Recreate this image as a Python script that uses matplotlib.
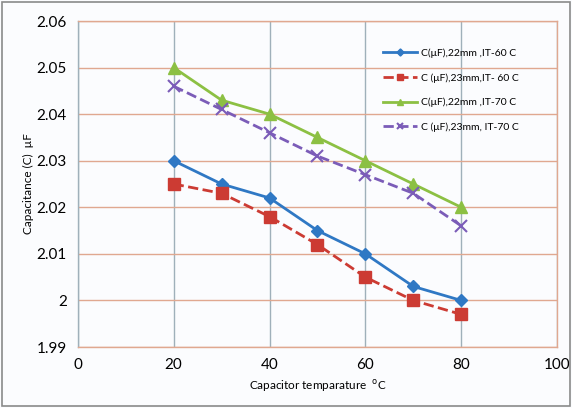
import matplotlib
matplotlib.use("Agg")
import matplotlib.pyplot as plt
from matplotlib.patches import Rectangle

plt.rcParams['font.family'] = ['Lato', 'DejaVu Sans']

temps = [20, 30, 40, 50, 60, 70, 80]
c_22_60 = [2.030, 2.025, 2.022, 2.015, 2.010, 2.003, 2.000]
c_23_60 = [2.025, 2.023, 2.018, 2.012, 2.005, 2.000, 1.997]
c_22_70 = [2.050, 2.043, 2.040, 2.035, 2.030, 2.025, 2.020]
c_23_70 = [2.046, 2.041, 2.036, 2.031, 2.027, 2.023, 2.016]

labels = ['C(μF),22mm ,IT-60 C', 'C (μF),23mm,IT- 60 C',
          'C(μF),22mm ,IT-70 C', 'C (μF),23mm, IT-70 C']

fig = plt.figure(figsize=(5.72, 4.08), dpi=100)
fig.patch.set_facecolor('#fbfcfe')
fig.patches.append(Rectangle((0.004, 0.004), 0.992, 0.992, transform=fig.transFigure,
                             fill=False, edgecolor='#8a8a8a', linewidth=1.2))
ax = fig.add_axes([0.136, 0.1495, 0.838, 0.799])
ax.set_facecolor('#fbfcfe')

ax.plot(temps, c_22_60, color='#2f78c4', linewidth=2, marker='D', markersize=6, label=labels[0])
ax.plot(temps, c_23_60, color='#cc3b33', linewidth=2, linestyle='--', marker='s', markersize=8, label=labels[1])
ax.plot(temps, c_22_70, color='#8cc043', linewidth=2, marker='^', markersize=8, label=labels[2])
ax.plot(temps, c_23_70, color='#7b5cb8', linewidth=2, linestyle='--', marker='x', markersize=8,
        markeredgewidth=1.5, label=labels[3])

ax.set_xlim(0, 100)
ax.set_ylim(1.99, 2.06)
ax.set_xticks([0, 20, 40, 60, 80, 100])
ax.set_yticks([1.99, 2.0, 2.01, 2.02, 2.03, 2.04, 2.05, 2.06])
ax.set_yticklabels(['1.99', '2', '2.01', '2.02', '2.03', '2.04', '2.05', '2.06'])
ax.tick_params(length=0, labelsize=11, pad=8)
ax.yaxis.grid(True, color='#e0a890', linewidth=1)
ax.xaxis.grid(True, color='#9fb0ba', linewidth=1)
ax.set_axisbelow(True)
for s in ax.spines.values():
    s.set_color('#e0a890')
    s.set_linewidth(1)
ax.spines['left'].set_color('#9fb0ba')

ax.set_xlabel('Capacitor temparature  $^{\\rm o}$C', fontsize=8.5)
ax.set_ylabel('Capacitance (C)  µF', fontsize=8.5, labelpad=2)

ax.legend(loc='upper right', bbox_to_anchor=(0.94, 0.945), frameon=False, fontsize=7.5,
          labelspacing=1.45, handlelength=3.3, handletextpad=0.4, markerscale=0.6)

fig.savefig('out.png', dpi=100, facecolor=fig.get_facecolor())
